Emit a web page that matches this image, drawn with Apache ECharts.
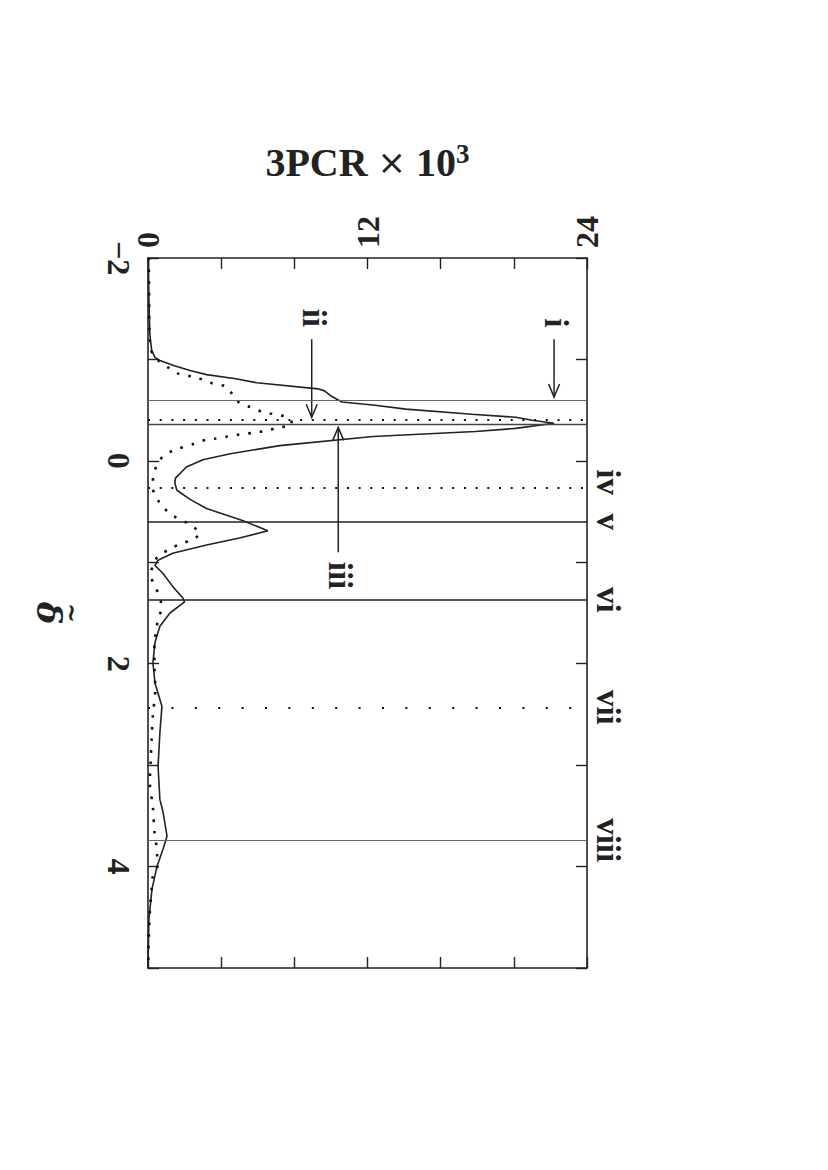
<!DOCTYPE html>
<html><head><meta charset="utf-8">
<script src="https://cdn.jsdelivr.net/npm/echarts@6/dist/echarts.min.js"></script>
<style>html,body{margin:0;padding:0;background:#fff}#c{width:828px;height:1170px}</style>
</head><body><div id="c"></div>
<script>
// ---- data ----
const solidDelta = [-2.0,-1.6,-1.25,-1.09,-1.02,-0.99,-0.94,-0.89,-0.85,-0.81,-0.77,-0.71,-0.69,-0.64,-0.58,-0.55,-0.51,-0.46,-0.43,-0.40,-0.37,-0.32,-0.29,-0.24,-0.15,-0.07,-0.01,0.06,0.17,0.22,0.29,0.38,0.47,0.59,0.69,0.76,0.83,0.91,0.98,1.03,1.11,1.25,1.35,1.39,1.50,1.63,1.79,1.99,2.19,2.42,2.68,3.01,3.34,3.46,3.70,3.83,4.0,4.22,4.52,5.0];
const solidValue = [0.02,0.05,0.1,0.2,0.38,0.65,1.4,2.3,3.2,4.8,5.95,9.3,9.65,10.0,10.6,12.3,14.1,17.7,20.1,21.0,22.2,20.1,17.9,12.3,7.2,4.5,3.0,2.1,1.5,1.47,1.58,2.3,3.2,5.2,6.55,5.0,3.2,1.35,0.55,0.38,0.82,1.4,1.9,2.0,1.2,0.65,0.38,0.27,0.38,0.76,0.65,0.55,0.65,0.82,1.04,0.82,0.49,0.22,0.05,0.0];
const dottedDelta = [-2.0,-1.6,-1.3,-1.1,-0.99,-0.92,-0.86,-0.82,-0.77,-0.73,-0.66,-0.61,-0.57,-0.53,-0.48,-0.46,-0.43,-0.38,-0.35,-0.33,-0.30,-0.28,-0.26,-0.24,-0.22,-0.21,-0.17,-0.10,-0.04,0.04,0.16,0.27,0.39,0.47,0.54,0.60,0.65,0.71,0.78,0.82,0.87,0.94,1.03,1.13,1.24,1.35,1.45,1.56,1.68,1.79,2.03,2.25,2.50,2.73,2.94,3.17,3.42,3.65,3.88,4.0,4.09,4.22,4.45,4.84,5.0];
const dottedValue = [0.05,0.06,0.08,0.15,0.55,1.1,1.65,2.7,3.4,4.3,4.6,4.85,5.0,5.6,6.3,6.9,7.6,7.85,7.85,7.15,6.55,5.9,5.0,4.35,3.7,3.2,2.55,1.35,0.8,0.5,0.27,0.27,0.55,0.9,1.35,2.0,2.45,2.85,2.4,1.75,1.2,0.55,0.27,0.15,0.4,0.65,0.75,0.55,0.45,0.35,0.35,0.4,0.27,0.2,0.15,0.1,0.27,0.35,0.5,0.5,0.27,0.2,0.1,0.02,0.01];
// reference lines (delta positions) and their kinds
const refDelta = [-0.60, -0.405, -0.365, 0.27, 0.60, 1.37, 2.43, 3.74];
const refKind  = ['thin','dot','mid','dot','solid','solid','sparse','thin'];
const romanLabels = ['iv','v','vi','vii','viii'];
const romanDelta = [0.21, 0.60, 1.37, 2.43, 3.74];
const arrowLabels = ['i','ii','iii'];
const arrowValue = [22.2, 8.95, 10.4];
const arrowFrom = [-1.20, -1.20, 0.90];
const arrowTo = [-0.63, -0.43, -0.33];
const arrowLabelDelta = [-1.36, -1.41, 1.13];
const xTickLabels = [0, 12, 24];
const yTickLabels = [-2, 0, 2, 4];

const serif = '"Liberation Serif", "Times New Roman", serif';
const kindStyle = {
  thin:  {color:'#666', width:1, type:'solid'},
  mid:   {color:'#444', width:1.3, type:'solid'},
  solid: {color:'#222', width:1.6, type:'solid'},
  dot:   {color:'#111', width:2, type:[2, 9.7]},
  sparse:{color:'#111', width:2, type:[2, 21.4]}
};

const chart = echarts.init(document.getElementById('c'), null, {renderer:'svg'});
const axisLineStyle = {show:true, onZero:false, lineStyle:{color:'#222', width:1.6}};
const tickStyle = {inside:true, length:11, lineStyle:{color:'#222', width:1.4}};
const labelFont = {fontFamily:serif, fontWeight:'bold', fontSize:32, color:'#222'};

chart.setOption({
  animation:false,
  grid:{left:148, top:258, width:439, height:710, containLabel:false},
  xAxis:[{
    type:'value', position:'top', min:0, max:24, interval:4,
    axisLine:axisLineStyle, axisTick:tickStyle, splitLine:{show:false},
    axisLabel:Object.assign({rotate:-90, margin:10, formatter:v=>xTickLabels.includes(v)?String(v):''}, labelFont),
    name:'{a|3PCR }{m|×}{a| 10}{s|3}', nameLocation:'middle', nameGap:74,
    nameTextStyle:{rich:{
      a:{fontFamily:serif, fontWeight:'bold', fontSize:40, color:'#222'},
      m:{fontFamily:'"DejaVu Sans", sans-serif', fontSize:34, color:'#222'},
      s:{fontFamily:serif, fontWeight:'bold', fontSize:27, color:'#222', verticalAlign:'bottom', padding:[0,0,17,0]}
    }}
  },{
    type:'value', position:'bottom', min:0, max:24, interval:4,
    axisLine:axisLineStyle, axisTick:tickStyle, splitLine:{show:false},
    axisLabel:{show:false}
  }],
  yAxis:[{
    type:'value', position:'left', min:-2, max:5, interval:1, inverse:true,
    axisLine:axisLineStyle, axisTick:tickStyle, splitLine:{show:false},
    axisLabel:Object.assign({rotate:-90, margin:13, formatter:v=>yTickLabels.includes(v)?String(v).replace('-','\u2212'):''}, labelFont),
    name:'{t|~}\n{d|δ}', nameLocation:'middle', nameGap:70, nameRotate:-90,
    nameTextStyle:{align:'center', rich:{
      t:{fontFamily:'"DejaVu Serif", serif', fontWeight:'bold', fontSize:24, lineHeight:12, color:'#222', align:'center'},
      d:{fontFamily:'"DejaVu Serif", serif', fontWeight:'bold', fontStyle:'italic', fontSize:34, lineHeight:34, color:'#222', align:'center'}
    }}
  },{
    type:'value', position:'right', min:-2, max:5, interval:1, inverse:true,
    axisLine:axisLineStyle, axisTick:tickStyle, splitLine:{show:false},
    axisLabel:{show:false}
  }],
  series:[{
    type:'line', name:'solid', showSymbol:false, symbol:'none',
    data:solidDelta.map((d,i)=>[solidValue[i], d]),
    lineStyle:{color:'#222', width:1.6},
    markLine:{silent:true, symbol:['none','none'], label:{show:false},
      data:refDelta.map((d,i)=>({yAxis:d, lineStyle:kindStyle[refKind[i]]}))}
  },{
    type:'line', name:'dotted', showSymbol:false, symbol:'none', smooth:0.3,
    data:dottedDelta.map((d,i)=>[dottedValue[i], d]),
    lineStyle:{color:'#111', width:2.6, type:[2.6, 9]}
  }]
});

// annotations placed through the chart's own scales
const P = (v,d)=>chart.convertToPixel({gridIndex:0}, [v,d]);
const gfx = [];
const txt = (x,y,t)=>({type:'text', x:x, y:y, rotation:-Math.PI/2, silent:true,
  style:{text:t, fill:'#222', font:'bold 33px '+serif, align:'center', verticalAlign:'middle', textAlign:'center', textVerticalAlign:'middle'}});
romanLabels.forEach((t,i)=>{ const p=P(24, romanDelta[i]); gfx.push(txt(p[0]+21, p[1], t)); });
arrowLabels.forEach((t,i)=>{
  const a=P(arrowValue[i], arrowFrom[i]), b=P(arrowValue[i], arrowTo[i]), l=P(arrowValue[i], arrowLabelDelta[i]);
  const dir = Math.sign(b[1]-a[1]);
  gfx.push({type:'line', silent:true, shape:{x1:a[0],y1:a[1],x2:b[0],y2:b[1]}, style:{stroke:'#222', lineWidth:1.5}});
  gfx.push({type:'polyline', silent:true, shape:{points:[[b[0]-5.5,b[1]-dir*13],[b[0],b[1]],[b[0]+5.5,b[1]-dir*13]]}, style:{stroke:'#222', lineWidth:1.5, fill:null}});
  gfx.push(txt(l[0]+2, l[1], t));
});
chart.setOption({graphic:gfx});
</script></body></html>
